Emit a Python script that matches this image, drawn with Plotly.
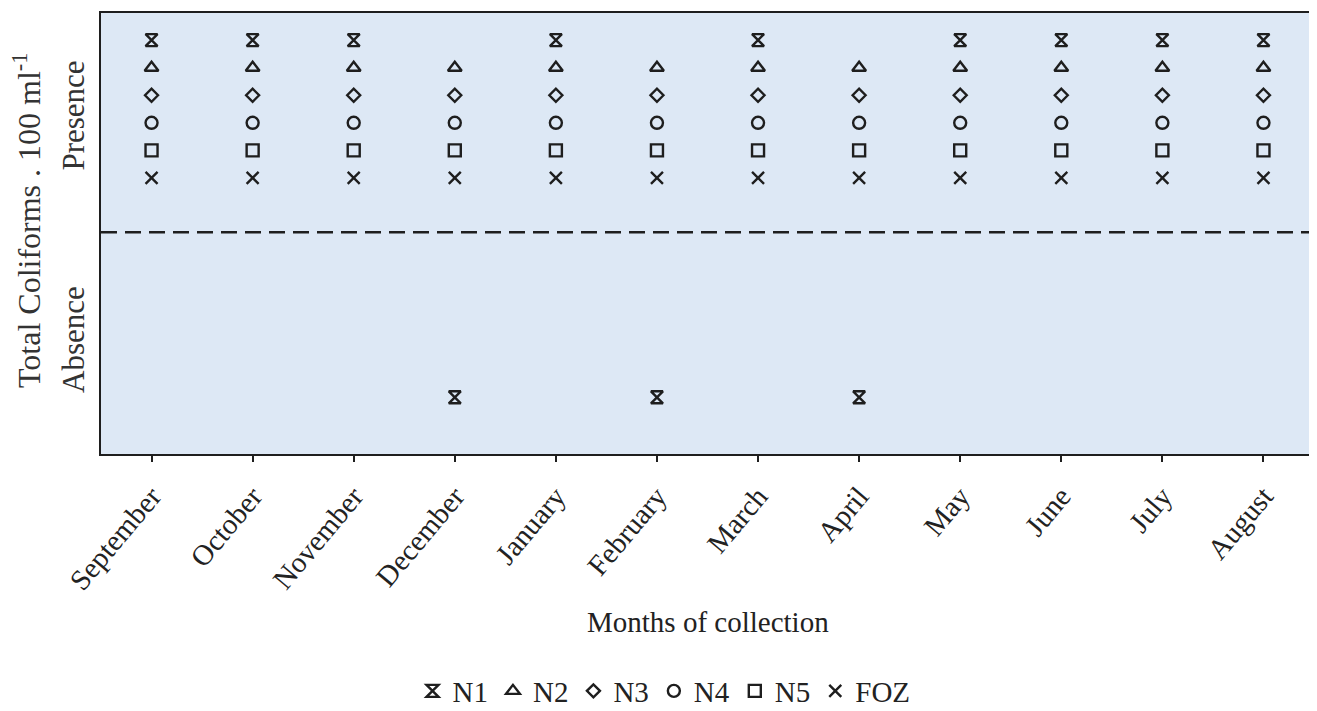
import plotly.graph_objects as go

months = ["September", "October", "November", "December", "January", "February",
          "March", "April", "May", "June", "July", "August"]
stations = ["N1", "N2", "N3", "N4", "N5", "FOZ"]
# 1 = presence, 0 = absence of total coliforms
status_N1 = [1, 1, 1, 0, 1, 0, 1, 0, 1, 1, 1, 1]
status_N2 = [1] * 12
status_N3 = [1] * 12
status_N4 = [1] * 12
status_N5 = [1] * 12
status_FOZ = [1] * 12
statuses = [status_N1, status_N2, status_N3, status_N4, status_N5, status_FOZ]
y_tick_labels = ["Absence", "Presence"]

symbols = ["hourglass-open", "triangle-up-open", "diamond-open", "circle-open",
           "square-open", "x-thin-open"]
sizes = [12, 12, 10, 12, 12, 12]

# page body has an 8px margin: figure pixel = screen pixel - 8
OFF = 8
W, H = 1309, 703
L, T = 101 - OFF, 13 - OFF
R = W - (1314 - OFF)
B = H - (454 - OFF)
pw, ph = W - L - R, H - T - B


def px_x(p):
    return (p - OFF - L) / pw


def px_y(p):
    return (H - B - (p - OFF)) / ph


fig = go.Figure()
row_step = 0.123
for i, (name, st) in enumerate(zip(stations, statuses)):
    ys = [(1.357 if s == 1 else -0.237) - i * row_step for s in st]
    fig.add_trace(go.Scatter(
        x=months, y=ys, mode="markers", name=name,
        marker=dict(symbol=symbols[i], size=sizes[i], color="#1e1e1e",
                    line=dict(width=2.4, color="#1e1e1e")),
    ))

fig.add_shape(type="line", xref="paper", yref="y", x0=0, x1=1, y0=0.5, y1=0.5,
              line=dict(color="#1e1e1e", width=2.5, dash="16px,8px"))

font = "Liberation Serif, Times New Roman, serif"
fig.add_annotation(text="Total Coliforms . 100 ml<sup>-1</sup>", xref="paper", yref="paper",
                   x=px_x(27), y=px_y(220), xanchor="center", yanchor="middle",
                   textangle=-90, showarrow=False, font=dict(size=32, family=font, color="#333333"))
fig.add_annotation(text="Months of collection", xref="paper", yref="paper",
                   x=px_x(708), y=px_y(622), xanchor="center", yanchor="middle",
                   showarrow=False, font=dict(size=29, family=font, color="#222222"))

fig.update_layout(
    width=W, height=H,
    margin=dict(l=L, r=R, t=T, b=B, autoexpand=False),
    paper_bgcolor="white", plot_bgcolor="#dde8f5",
    font=dict(family=font, color="#222222"),
    showlegend=True,
    legend=dict(orientation="h", x=px_x(664), xanchor="center", y=px_y(691), yanchor="middle",
                font=dict(size=29, family=font), tracegroupgap=0,
                bgcolor="rgba(0,0,0,0)"),
    xaxis=dict(
        type="category", categoryorder="array", categoryarray=months,
        range=[-0.5, 11.5], showgrid=False, zeroline=False, automargin=False,
        showline=True, linecolor="#1e1e1e", linewidth=1.5, mirror=True,
        ticks="outside", ticklen=6, tickwidth=1.5, tickcolor="#1e1e1e",
        tickangle=-50, tickfont=dict(size=29, family=font, color="#222222"),
        ticklabelstandoff=6,
    ),
    yaxis=dict(
        range=[-0.49, 1.478], showgrid=False, zeroline=False, automargin=False,
        showline=True, linecolor="#1e1e1e", linewidth=1.5, mirror=True,
        tickmode="array", tickvals=[0, 1], ticktext=y_tick_labels,
        ticks="", tickangle=-90, tickfont=dict(size=31, family=font, color="#333333"),
        ticklabelstandoff=3,
    ),
)

fig.write_html("out.html")
